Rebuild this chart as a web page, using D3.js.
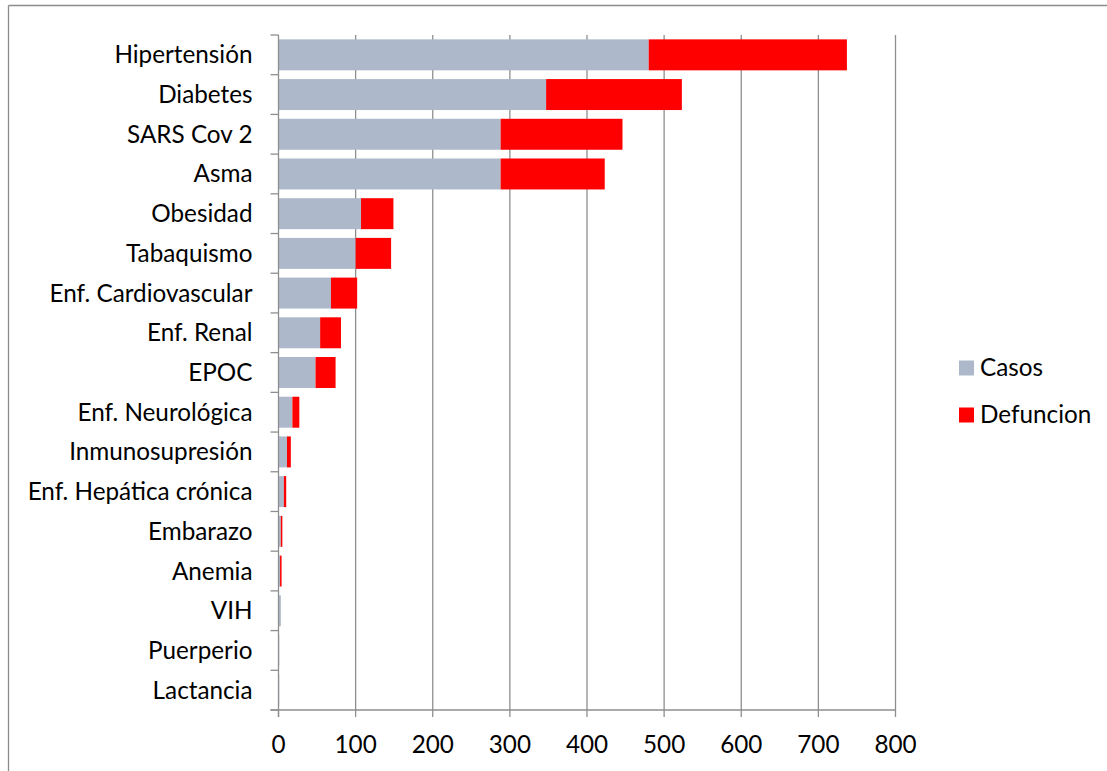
<!DOCTYPE html>
<html><head><meta charset="utf-8">
<script src="https://cdn.jsdelivr.net/npm/d3@7"></script>
<style>
html,body{margin:0;padding:0;background:#fff;}
svg{display:block;}
text{font-family:Lato,"Open Sans",sans-serif;fill:#000;}
</style></head>
<body>
<svg id="chart" width="1107" height="771"></svg>
<script>
const categories = ["Hipertensión","Diabetes","SARS Cov 2","Asma","Obesidad","Tabaquismo","Enf. Cardiovascular","Enf. Renal","EPOC","Enf. Neurológica","Inmunosupresión","Enf. Hepática crónica","Embarazo","Anemia","VIH","Puerperio","Lactancia"];
const casos =      [480,347,288,288,107,100,68,54,48,18,11,7,3,2,3,1,1];
const defuncion =  [257,176,158,135,42,46,34,27,26,9,5,3,2,2,0,0,0];
const seriesNames = ["Casos","Defuncion"];
const seriesColors = ["#adb9ca","#ff0000"];
const xTicks = [0,100,200,300,400,500,600,700,800];

const svg = d3.select("#chart");
const W = 1107, H = 771;
const m = {left:278.5, right:W-895.5, top:35, bottom:H-710};

// outer frame (top & left edges visible)
svg.append("line").attr("x1",8.5).attr("x2",W).attr("y1",5.5).attr("y2",5.5).attr("stroke","#8c8c8c").attr("stroke-width",1.3);
svg.append("line").attr("x1",8.5).attr("x2",8.5).attr("y1",5.5).attr("y2",H).attr("stroke","#8c8c8c").attr("stroke-width",1.3);

const x = d3.scaleLinear().domain([0,800]).range([m.left, W-m.right]);
const y = d3.scaleBand().domain(categories).range([m.top, H-m.bottom]).paddingInner(0.22).paddingOuter(0.11);

const data = categories.map((c,i)=>({cat:c, Casos:casos[i], Defuncion:defuncion[i]}));
const stack = d3.stack().keys(seriesNames)(data);

// gridlines
svg.append("g").selectAll("line").data(xTicks.filter(d=>d>0)).join("line")
  .attr("x1",d=>x(d)).attr("x2",d=>x(d)).attr("y1",m.top).attr("y2",H-m.bottom)
  .attr("stroke","#8e8e8e").attr("stroke-width",1.3);

// bars
svg.append("g").selectAll("g").data(stack).join("g")
  .attr("fill",(d,i)=>seriesColors[i])
  .selectAll("rect").data(d=>d).join("rect")
  .attr("x",d=>x(d[0])).attr("width",d=>Math.max(0,x(d[1])-x(d[0])))
  .attr("y",d=>y(d.data.cat)).attr("height",y.bandwidth());

// font sizing to match reference label widths
const probe = svg.append("text").style("font-size","20px").text("Enf. Hepática crónica");
const w20 = probe.node().getComputedTextLength();
probe.remove();
const fs = 20*225/w20;

// y axis
const step = y.step();
const yAxisG = svg.append("g");
yAxisG.append("line").attr("x1",m.left).attr("x2",m.left).attr("y1",m.top).attr("y2",H-m.bottom+7)
  .attr("stroke","#8e8e8e").attr("stroke-width",1.3);
yAxisG.selectAll("line.tk").data(d3.range(categories.length+1)).join("line").attr("class","tk")
  .attr("x1",m.left-8).attr("x2",m.left).attr("y1",i=>m.top+i*step).attr("y2",i=>m.top+i*step)
  .attr("stroke","#8e8e8e").attr("stroke-width",1.3);
yAxisG.selectAll("text").data(categories).join("text")
  .attr("x",m.left-26).attr("y",d=>y(d)+y.bandwidth()/2).attr("dy","0.35em")
  .attr("text-anchor","end").style("font-size",fs+"px").text(d=>d);

// x axis
const xAxisG = svg.append("g");
xAxisG.append("line").attr("x1",m.left-8).attr("x2",W-m.right).attr("y1",H-m.bottom).attr("y2",H-m.bottom)
  .attr("stroke","#8e8e8e").attr("stroke-width",1.3);
xAxisG.selectAll("line.tk").data(xTicks).join("line").attr("class","tk")
  .attr("x1",d=>x(d)).attr("x2",d=>x(d)).attr("y1",H-m.bottom).attr("y2",H-m.bottom+7)
  .attr("stroke","#8e8e8e").attr("stroke-width",1.3);
xAxisG.selectAll("text").data(xTicks).join("text")
  .attr("x",d=>x(d)).attr("y",H-m.bottom+35).attr("dy","0.35em")
  .attr("text-anchor","middle").style("font-size",fs+"px").text(d=>d);

// legend
const lg = svg.append("g");
seriesNames.forEach((s,i)=>{
  const cy = 368 + i*47;
  lg.append("rect").attr("x",959).attr("y",cy-7.5).attr("width",15).attr("height",15).attr("fill",seriesColors[i]);
  lg.append("text").attr("x",980).attr("y",cy).attr("dy","0.35em").style("font-size",fs+"px").text(s);
});
</script>
</body></html>
